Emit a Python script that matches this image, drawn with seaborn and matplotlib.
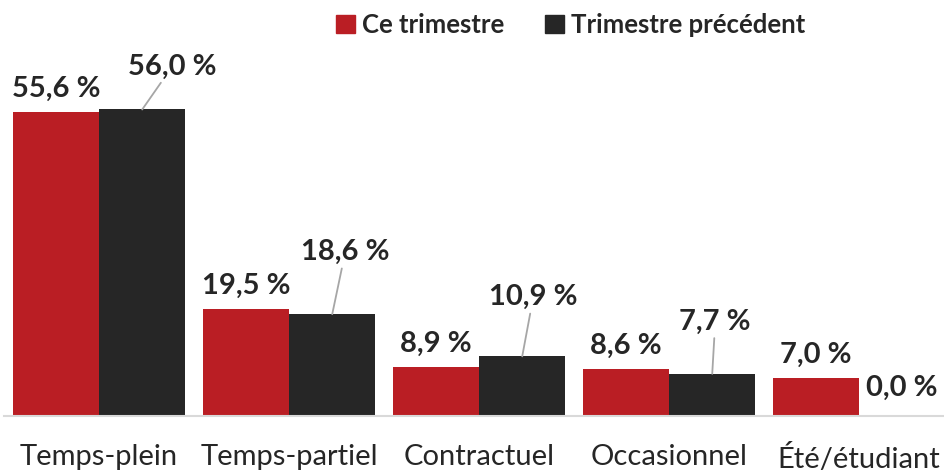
import pandas as pd
import matplotlib.pyplot as plt
import seaborn as sns

categories = ["Temps-plein", "Temps-partiel", "Contractuel", "Occasionnel", "Été/étudiant"]
ce_trimestre = [55.6, 19.5, 8.9, 8.6, 7.0]
trimestre_precedent = [56.0, 18.6, 10.9, 7.7, 0.0]
series_names = ["Ce trimestre", "Trimestre précédent"]
colors = ["#BA1E24", "#262626"]

# label offsets (pixels) for the previous-quarter labels
prev_offsets = [(30, 43), (13, 62), (11, 59), (3, 52), (0, 28)]

df = pd.DataFrame({
    "categorie": categories * 2,
    "valeur": ce_trimestre + trimestre_precedent,
    "periode": [series_names[0]] * 5 + [series_names[1]] * 5,
})

sns.set_style("white")
plt.rcParams["font.family"] = ["Lato", "DejaVu Sans"]

fig = plt.figure(figsize=(9.45, 4.73), dpi=100)
ax = fig.add_axes([4 / 945, 0.1205, 950 / 945, 0.8795])

sns.barplot(data=df, x="categorie", y="valeur", hue="periode",
            palette=colors, saturation=1, width=0.91, gap=0,
            linewidth=0, ax=ax, legend=False)

ax.set_xlim(-0.5, 4.5)
ax.set_ylim(0, 76)
ax.set_xlabel("")
ax.set_ylabel("")
ax.set_yticks([])
for s in ["top", "left", "right"]:
    ax.spines[s].set_visible(False)
ax.spines["bottom"].set_color("#D9D9D9")
ax.spines["bottom"].set_linewidth(1.5)
ax.tick_params(axis="x", length=0, pad=20, labelsize=21)

red_bars = ax.containers[0]
dark_bars = ax.containers[1]

for bar, v in zip(red_bars, ce_trimestre):
    x = bar.get_x() + bar.get_width() / 2
    ax.annotate(f"{v:.1f} %".replace(".", ","), (x, bar.get_height()),
                xytext=(0, 23), textcoords="offset pixels",
                ha="center", va="center", fontsize=21, fontweight="bold")

for bar, v, (dx, dy) in zip(dark_bars, trimestre_precedent, prev_offsets):
    x = bar.get_x() + bar.get_width() / 2
    arrow = None
    if v > 0:
        arrow = dict(arrowstyle="-", color="#A6A6A6", lw=1.3, shrinkA=0, shrinkB=0)
    ax.annotate(f"{v:.1f} %".replace(".", ","), (x, bar.get_height()),
                xytext=(dx, dy), textcoords="offset pixels",
                ha="center", va="center", fontsize=21, fontweight="bold",
                arrowprops=arrow)

handles = [plt.Rectangle((0, 0), 1, 1, color=c) for c in colors]
fig.legend(handles, series_names, loc="center", bbox_to_anchor=(0.604, 0.947),
           ncol=2, frameon=False, handlelength=0.72, handleheight=0.72,
           handletextpad=0.28, columnspacing=1.6,
           prop={"size": 18.5, "weight": "bold"})

fig.savefig("out.png", dpi=100)
